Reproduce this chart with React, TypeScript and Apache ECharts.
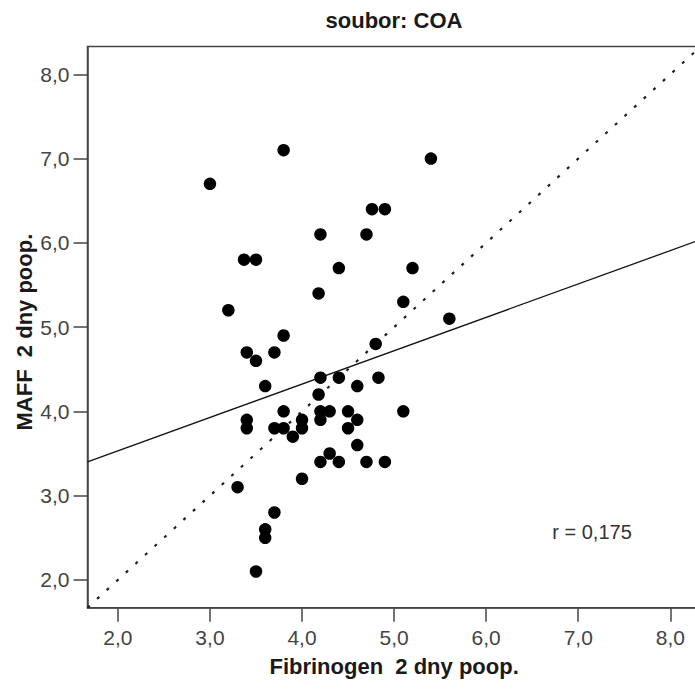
import React, { useEffect, useRef } from "react";
import * as echarts from "echarts";

// Fibrinogen 2 dny poop. (x) and MAFF 2 dny poop. (y)
const fibrinogen = [
  3.8, 3.0, 5.4, 4.76, 4.9, 4.2, 4.7, 3.37, 3.5, 4.4, 5.2, 4.18, 5.1, 3.2, 5.6,
  3.8, 4.8, 3.4, 3.7, 3.5, 4.2, 4.4, 4.83, 4.6, 3.6, 4.18, 3.8, 4.2, 4.3, 4.5,
  5.1, 3.4, 3.4, 4.0, 4.0, 4.2, 4.6, 3.7, 3.8, 4.5, 3.9, 4.6, 4.3, 4.2, 4.4,
  4.7, 4.9, 4.0, 3.3, 3.7, 3.6, 3.6, 3.5,
];
const maff = [
  7.1, 6.7, 7.0, 6.4, 6.4, 6.1, 6.1, 5.8, 5.8, 5.7, 5.7, 5.4, 5.3, 5.2, 5.1,
  4.9, 4.8, 4.7, 4.7, 4.6, 4.4, 4.4, 4.4, 4.3, 4.3, 4.2, 4.0, 4.0, 4.0, 4.0,
  4.0, 3.9, 3.8, 3.9, 3.8, 3.9, 3.9, 3.8, 3.8, 3.8, 3.7, 3.6, 3.5, 3.4, 3.4,
  3.4, 3.4, 3.2, 3.1, 2.8, 2.6, 2.5, 2.1,
];

const xTicks = [2, 3, 4, 5, 6, 7, 8];
const yTicks = [2, 3, 4, 5, 6, 7, 8];
const AXIS_MIN = 1.67;
const AXIS_MAX = 8.33;
const FIT_INTERCEPT = 2.74;
const FIT_SLOPE = 0.396;
const TITLE = "soubor: COA";
const X_NAME = "Fibrinogen  2 dny poop.";
const Y_NAME = "MAFF  2 dny poop.";
const R_TEXT = "r = 0,175";

const FONT = "'Liberation Sans', Arial, sans-serif";

export default function App() {
  const ref = useRef<HTMLDivElement>(null);
  useEffect(() => {
    if (!ref.current) return;
    const chart = echarts.init(ref.current, undefined, { renderer: "svg" });
    const points = fibrinogen.map((x, i) => [x, maff[i]]);
    const fit = [
      [AXIS_MIN, FIT_INTERCEPT + FIT_SLOPE * AXIS_MIN],
      [AXIS_MAX, FIT_INTERCEPT + FIT_SLOPE * AXIS_MAX],
    ];
    const diag = [
      [AXIS_MIN, AXIS_MIN],
      [AXIS_MAX, AXIS_MAX],
    ];
    const fmt = (v: number) => v.toFixed(1).replace(".", ",");
    chart.setOption({
      animation: false,
      backgroundColor: "#fff",
      textStyle: { fontFamily: FONT },
      grid: {
        left: 87.5,
        top: 46.5,
        right: -5.7,
        bottom: 81.3,
        containLabel: false,
        outerBoundsMode: "none",
        show: true,
        borderColor: "#444",
        borderWidth: 1.5,
        backgroundColor: "#fff",
      },
      graphic: [
        {
          type: "text",
          x: 394,
          y: 20,
          style: {
            text: TITLE,
            fontFamily: FONT,
            fontWeight: "bold",
            fontSize: 22,
            fill: "#1a1a1a",
            align: "center",
            verticalAlign: "middle",
          },
        },
        {
          type: "text",
          x: 592,
          y: 532,
          style: {
            text: R_TEXT,
            fontFamily: FONT,
            fontSize: 20,
            fill: "#333",
            align: "center",
            verticalAlign: "middle",
          },
        },
      ],
      xAxis: {
        type: "value",
        min: AXIS_MIN,
        max: AXIS_MAX,
        name: X_NAME,
        nameLocation: "middle",
        nameGap: 48,
        nameMoveOverlap: false,
        nameTextStyle: { fontFamily: FONT, fontWeight: "bold", fontSize: 22, color: "#1a1a1a" },
        splitLine: { show: false },
        axisLine: { show: true, lineStyle: { color: "#444", width: 1.5 } },
        axisTick: {
          show: true,
          length: 14,
          customValues: xTicks,
          lineStyle: { color: "#444", width: 1.5 },
        },
        axisLabel: {
          customValues: xTicks,
          margin: 19,
          color: "#444",
          fontSize: 21,
          fontFamily: FONT,
          formatter: fmt,
        },
      },
      yAxis: {
        type: "value",
        min: AXIS_MIN,
        max: AXIS_MAX,
        name: Y_NAME,
        nameLocation: "middle",
        nameRotate: 90,
        nameGap: 52,
        nameMoveOverlap: false,
        nameTextStyle: {
          fontFamily: FONT,
          fontWeight: "bold",
          fontSize: 22,
          color: "#1a1a1a",
          padding: [0, 10, 0, 0],
        },
        splitLine: { show: false },
        axisLine: { show: true, lineStyle: { color: "#444", width: 1.5 } },
        axisTick: {
          show: true,
          length: 14,
          customValues: yTicks,
          lineStyle: { color: "#444", width: 1.5 },
        },
        axisLabel: {
          customValues: yTicks,
          margin: 18,
          color: "#444",
          fontSize: 21,
          fontFamily: FONT,
          formatter: fmt,
        },
      },
      series: [
        {
          type: "line",
          data: diag,
          symbol: "none",
          silent: true,
          lineStyle: { color: "#222", width: 2.2, type: [3, 10] },
          z: 2,
        },
        {
          type: "line",
          data: fit,
          symbol: "none",
          silent: true,
          lineStyle: { color: "#111", width: 1.3 },
          z: 2,
        },
        {
          type: "scatter",
          data: points,
          symbolSize: 12.5,
          itemStyle: { color: "#000", opacity: 1 },
          z: 3,
        },
      ],
    });
    return () => chart.dispose();
  }, []);
  return (
    <div
      ref={ref}
      style={{ position: "fixed", left: 0, top: 0, width: 695, height: 689 }}
    />
  );
}
